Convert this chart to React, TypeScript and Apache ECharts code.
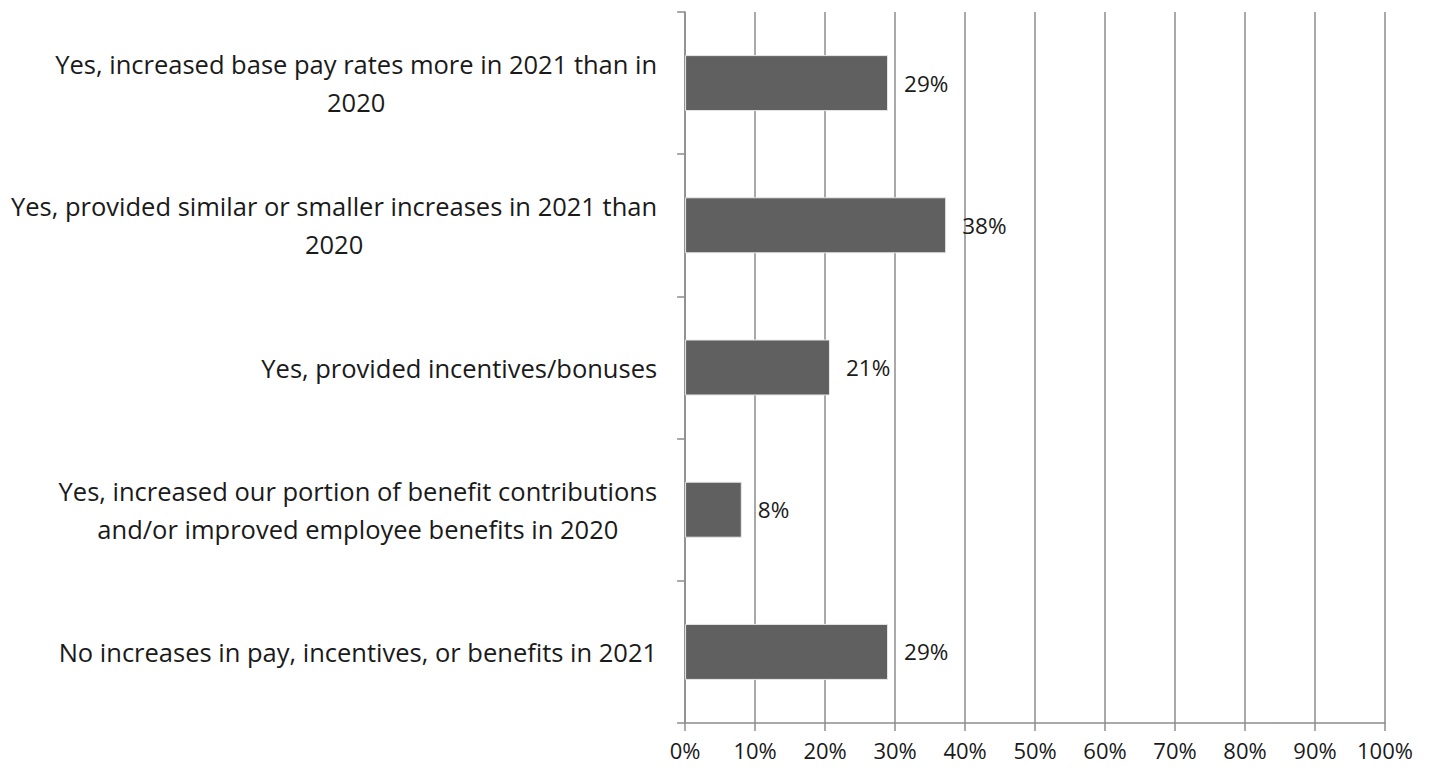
import React, { useEffect, useRef } from "react";
import * as echarts from "echarts";

const categories = [
  "Yes, increased base pay rates more in 2021 than in\n2020",
  "Yes, provided similar or smaller increases in 2021 than\n2020",
  "Yes, provided incentives/bonuses",
  "Yes, increased our portion of benefit contributions\nand/or improved employee benefits in 2020",
  "No increases in pay, incentives, or benefits in 2021",
];
const values = [29, 37.3, 20.7, 8.1, 29];
const valueLabels = ["29%", "38%", "21%", "8%", "29%"];

export default function App() {
  const ref = useRef<HTMLDivElement>(null);
  useEffect(() => {
    if (!ref.current) return;
    const chart = echarts.init(ref.current, undefined, { renderer: "svg" });
    const font = "'Open Sans', sans-serif";
    chart.setOption({
      animation: false,
      grid: { left: 676, right: 40, top: 4, bottom: 44, containLabel: false },
      xAxis: {
        type: "value",
        min: 0,
        max: 100,
        interval: 10,
        axisLine: { show: true, lineStyle: { color: "#8c8c8c", width: 1.5 } },
        axisTick: { show: true, length: 8, lineStyle: { color: "#8c8c8c", width: 1.5 } },
        splitLine: { show: true, lineStyle: { color: "#8c8c8c", width: 1.5 } },
        axisLabel: {
          formatter: "{value}%",
          color: "#1a1a1a",
          fontSize: 22,
          fontFamily: font,
          margin: 16,
        },
      },
      yAxis: {
        type: "category",
        inverse: true,
        data: categories,
        axisLine: { show: true, lineStyle: { color: "#8c8c8c", width: 1.5 } },
        axisTick: { show: true, length: 8, lineStyle: { color: "#8c8c8c", width: 1.5 } },
        axisLabel: {
          margin: 28,
          align: "right",
          formatter: (v: string) =>
            v
              .split("\n")
              .map((l) => `{c|${l}}`)
              .join("\n"),
          rich: {
            c: {
              align: "center",
              color: "#1a1a1a",
              fontSize: 25.5,
              fontFamily: font,
              lineHeight: 38,
            },
          },
        },
      },
      series: [
        {
          type: "bar",
          data: values,
          barWidth: 56,
          itemStyle: { color: "#606060", borderColor: "#e8e8e8", borderWidth: 1 },
          label: {
            show: true,
            position: "right",
            distance: 16,
            color: "#1a1a1a",
            fontSize: 22.5,
            fontFamily: font,
            formatter: (p: any) => valueLabels[p.dataIndex],
          },
        },
      ],
    });
    return () => chart.dispose();
  }, []);
  return <div ref={ref} style={{ width: 1417, height: 759 }} />;
}
